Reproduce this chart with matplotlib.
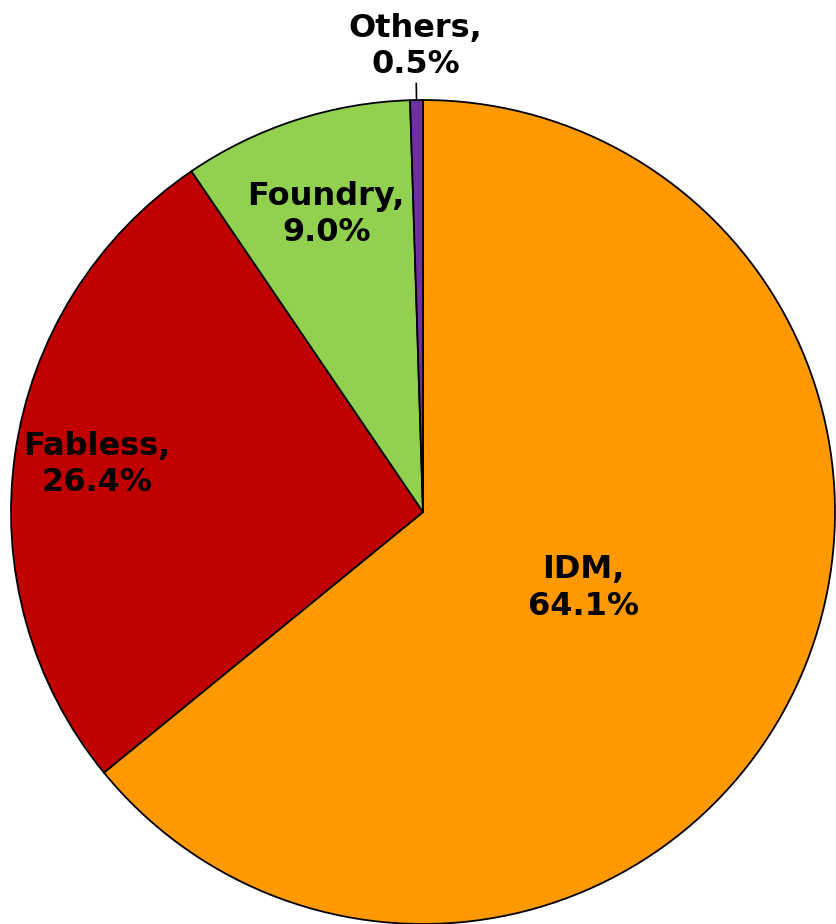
import numpy as np
import matplotlib.pyplot as plt

# market share by business model
segments = ['IDM', 'Fabless', 'Foundry', 'Others']
shares = [64.1, 26.4, 9.0, 0.5]
colors = ['#FF9900', '#C00000', '#92D050', '#7030A0']
label_radius = [0.43, 0.80, 0.76, 1.13]

fig = plt.figure(figsize=(8.36, 9.24), dpi=100)
ax = fig.add_axes([0, 0, 1, 1])

wedges, _ = ax.pie(shares, colors=colors, startangle=90, counterclock=False,
                   radius=1.0, wedgeprops=dict(edgecolor='black', linewidth=1.3))

for w, name, val, r in zip(wedges, segments, shares, label_radius):
    mid = np.radians((w.theta1 + w.theta2) / 2)
    ax.text(r * np.cos(mid), r * np.sin(mid), f'{name},\n{val:.1f}%',
            ha='center', va='center', fontsize=23, fontweight='bold',
            linespacing=1.22, color='black')

# leader line for the tiny slice
w = wedges[-1]
mid = np.radians((w.theta1 + w.theta2) / 2)
ax.plot([1.0 * np.cos(mid), 1.04 * np.cos(mid)],
        [1.0 * np.sin(mid), 1.04 * np.sin(mid)], color='black', lw=1.2)

ax.set_xlim(-423 / 412, (836 - 423) / 412)
ax.set_ylim(-1.0, (924 - 412) / 412)
ax.set_aspect('equal')
ax.axis('off')

fig.savefig('out.png', dpi=100)
